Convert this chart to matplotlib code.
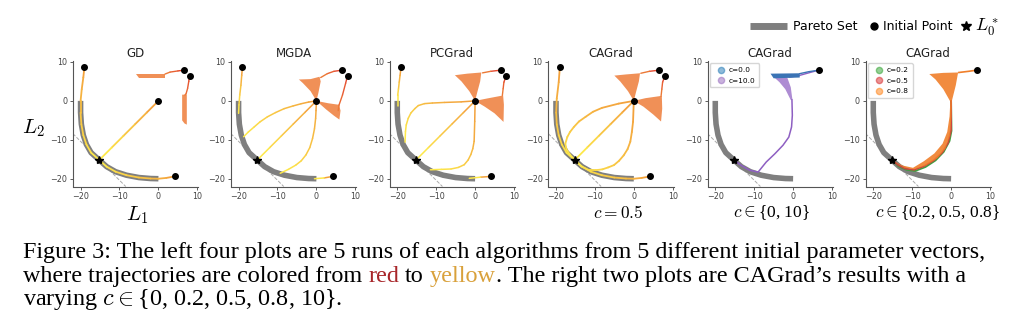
import numpy as np
import matplotlib
matplotlib.use("Agg")
import matplotlib.pyplot as plt
from matplotlib.collections import LineCollection
from matplotlib.colors import LinearSegmentedColormap
from matplotlib.lines import Line2D

plt.rcParams['mathtext.fontset'] = 'cm'

# ---- data ----
titles = ['GD', 'MGDA', 'PCGrad', 'CAGrad', 'CAGrad', 'CAGrad']
pareto_x = [-20, -20, -19.8, -19.3, -18.5, -17.3, -15.2, -13.3, -11.0, -8.2, -5.0, -2.0, 0]
pareto_y = [0, -3, -6, -8.8, -11.2, -13.3, -15.2, -16.9, -18.2, -19.1, -19.7, -19.95, -20]
star_xy = (-15.2, -15.2)
tangent_x = [-22, -8.4]
tangent_y = [-8.4, -22]
init_x = [-19.0, 0.0, 4.2, 6.6, 8.0]
init_y = [8.8, 0.0, -19.4, 7.9, 6.5]
one_init = (6.6, 7.9)

diag = ([0, -3, -6, -9, -12, -15.2], [0, -3, -6, -9, -12, -15.2])
arc_bottom = ([4.2, 2.0, 0.0, -2.0, -5.0, -8.2, -11.0, -13.3, -15.2],
              [-19.4, -19.8, -20.0, -19.95, -19.7, -19.1, -18.2, -16.9, -15.2])

gd_runs = [
    ([-19.0, -19.3, -19.7, -20.0, -20.0, -19.8, -19.3, -18.5, -17.3, -15.2],
     [8.8, 6.0, 3.0, 0.0, -3.0, -6.0, -8.8, -11.2, -13.3, -15.2]),
    diag,
    arc_bottom,
]
gd_stuck = [
    ([6.6, 5.0, 3.0, 1.7], [7.9, 7.7, 7.4, 6.9]),
    ([8.0, 7.8, 7.5, 7.1, 6.8], [6.5, 5.0, 3.2, 1.8, 1.5]),
]
gd_noise = [
    ([-5.8, 1.7, 1.7, -4.9], [7.0, 7.0, 5.8, 5.8]),
    ([6.1, 7.3, 7.3, 6.7, 6.1], [1.6, 1.6, -6.1, -5.8, -5.0]),
]

mgda_runs = [
    ([-19.0, -19.2, -19.4, -19.7, -19.9, -20.0], [8.8, 6.5, 4.0, 1.5, -1.0, -3.2]),
    ([0, -2.0, -4.0, -6.0, -8.3, -10.5, -12.6, -14.5, -16.0, -17.5, -18.7],
     [0, -0.3, -0.75, -1.3, -2.0, -3.0, -4.1, -5.4, -6.7, -8.0, -9.2]),
    diag,
    ([0, -0.1, -0.2, -0.5, -1.0, -1.7, -2.7, -3.9, -5.3, -7.2, -9.3],
     [0, -2.5, -4.5, -7.2, -9.7, -12.0, -13.9, -15.4, -16.5, -17.6, -18.6]),
    ([4.2, 2.0, -0.5], [-19.4, -19.8, -20.0]),
]
mgda_stuck = [
    ([6.6, 4.5, 2.8, 1.1], [7.9, 7.6, 7.0, 6.0]),
    ([8.0, 7.5, 6.7, 5.8, 5.6], [6.5, 4.5, 1.5, -1.1, -2.5]),
]
mgda_noise = [
    ([-4.5, -1.5, 0.8, 1.1, 0.5, 0.0, -1.5, -3.5], [5.5, 5.6, 6.2, 5.0, 2.0, 0.0, 2.5, 4.6]),
    ([0.0, 3.0, 5.8, 6.2, 5.9, 4.5, 2.5], [0.0, -0.6, -1.0, -2.5, -4.8, -3.8, -2.2]),
]

pc_runs = [
    ([-19.0, -19.3, -19.5, -19.7, -19.9, -19.9], [8.8, 6.5, 4.8, 3.0, 1.4, -1.3]),
    ([0, -3.6, -7.9, -11.0, -13.0, -14.6, -15.5, -16.5, -17.2, -17.7, -17.9, -18.0],
     [0, -0.25, -0.4, -0.55, -0.7, -1.2, -2.0, -3.1, -4.5, -6.2, -7.9, -10.6]),
    diag,
    ([0, -0.1, -0.25, -0.6, -1.1, -1.8, -2.8, -4.3, -6.2, -8.7, -11.5],
     [0, -5.3, -10.4, -12.3, -13.8, -15.2, -16.4, -17.1, -17.5, -17.6, -17.7]),
    ([4.2, 1.4, -1.5], [-19.4, -19.6, -19.9]),
]
pc_stuck = [
    ([6.6, 4.0, 1.9], [7.9, 7.6, 7.2]),
    ([8.0, 7.4, 7.2, 7.0], [6.5, 4.8, 3.1, 1.4]),
]
pc_noise = [
    ([-5.2, -2.0, 1.6, 1.3, 0.5, 0.0, -1.5, -3.5], [6.6, 7.0, 7.3, 5.0, 2.0, 0.0, 2.5, 5.0]),
    ([0.0, 3.0, 7.2, 7.4, 7.3, 5.0, 2.5], [0.0, 0.6, 1.4, -1.0, -5.4, -3.2, -1.5]),
]

ca_runs = [
    ([-19.0, -19.3, -19.8, -19.95, -19.8, -19.3, -18.5, -17.3, -15.2],
     [8.8, 4.8, 0.6, -3.0, -6.0, -8.8, -11.2, -13.3, -15.2]),
    ([0, -3.9, -8.2, -10.5, -12.4, -14.1, -15.4, -16.4, -17.1, -17.6, -17.3, -16.4, -15.2],
     [0, -0.7, -1.8, -2.8, -4.1, -5.3, -6.7, -8.0, -9.3, -11.0, -12.5, -13.8, -15.2]),
    diag,
    ([0, -0.2, -0.5, -0.9, -1.6, -2.6, -3.8, -5.1, -6.6, -8.1, -9.8, -11.5, -13.5, -15.2],
     [0, -5.4, -8.0, -10.5, -12.4, -14.0, -15.4, -16.5, -17.1, -17.6, -17.8, -17.8, -16.8, -15.2]),
    arc_bottom,
]
ca_stuck = [
    ([6.6, 4.0, 1.8], [7.9, 7.6, 7.1]),
    ([8.0, 7.4, 7.2, 7.0], [6.5, 4.8, 3.0, 1.2]),
]
ca_noise = [
    ([-5.0, -2.0, 1.6, 1.3, 0.5, 0.0, -1.5, -3.5], [6.5, 6.8, 7.1, 5.0, 2.0, 0.0, 2.5, 5.0]),
    ([0.0, 3.0, 7.2, 7.3, 7.0, 5.0, 2.5], [0.0, 0.7, 1.3, -2.0, -5.3, -3.5, -1.5]),
]

# panel 5: c = 0 and c = 10
c0_curve = ([6.6, 4.0, 1.7], [7.9, 7.5, 7.0])
c0_band = ([-5.8, 1.7, 1.7, -5.0], [7.0, 7.1, 6.0, 5.8])
c10_top = ([6.6, 4.0, 1.5, -1.0], [7.9, 7.2, 6.5, 6.1])
c10_noise = ([-4.8, -1.5, -0.6, -0.2, -0.6, -2.0, -3.5], [6.0, 6.0, 3.5, 0.5, 0.2, 3.0, 4.8])
c10_path = ([-0.3, -0.2, -0.4, -1.1, -2.6, -4.7, -6.9, -9.0, -11.2, -13.3, -15.2],
            [0.3, -3.7, -6.7, -9.3, -11.4, -13.6, -15.7, -18.3, -17.8, -16.6, -15.2])

# panel 6: c = 0.2, 0.5, 0.8
p6_curve = ([6.6, 4.5, 2.0], [7.9, 7.6, 7.3])
p6_noise = ([-5.6, -2.0, 1.8, 1.2, 0.2, -0.3, -2.0, -4.0], [6.9, 7.2, 7.3, 4.0, 0.0, 0.0, 3.0, 5.5])
c02_path = ([0, 0.1, -0.4, -1.9, -4.0, -6.6, -9.2, -11.5, -13.5, -15.2],
            [0, -7.7, -10.3, -13.1, -15.3, -17.0, -18.0, -17.7, -16.8, -15.2])
c05_path = ([0, 0.0, -0.8, -2.3, -4.5, -7.0, -9.5, -11.8, -13.6, -15.2],
            [0, -7.5, -10.8, -13.3, -15.3, -16.8, -17.7, -17.4, -16.5, -15.2])
c08_band = ([-0.2, -0.4, -1.0, -2.2, -4.3, -7.0, -9.8, -12.5, -15.2,
             -12.0, -9.5, -6.5, -3.5, -1.5, -0.3, 0.1, 0.2],
            [0, -4, -8, -11, -13.5, -15.5, -17.2, -16.6, -15.2,
             -17.2, -17.6, -16.6, -14.7, -12.3, -9.0, -4.0, 0])
legend5 = ['c=0.0', 'c=10.0']
legend6 = ['c=0.2', 'c=0.5', 'c=0.8']
sub_labels = ['$c=0.5$', r'$c\in${0, 10}', r'$c\in${0.2, 0.5, 0.8}']

# ---- drawing ----
ry = LinearSegmentedColormap.from_list('ry', ['#e4482e', '#f29a3c', '#fde84a'])
NOISE = '#ee7d3a'


def grad_line(ax, run, t0, t1, lw=1.2, z=4):
    pts = np.column_stack(run)
    segs = np.stack([pts[:-1], pts[1:]], axis=1)
    t = np.linspace(t0, t1, len(segs))
    ax.add_collection(LineCollection(segs, colors=ry(t), linewidths=lw,
                                     capstyle='round', joinstyle='round', zorder=z))


def base(ax, title):
    ax.plot(pareto_x, pareto_y, color='#7f7f7f', lw=4, solid_capstyle='butt', zorder=2)
    ax.plot(tangent_x, tangent_y, color='#aaaaaa', lw=0.7, ls='--', zorder=1)
    ax.set_xlim(-22, 10.2)
    ax.set_ylim(-22, 10.2)
    ax.set_xticks([-20, -10, 0, 10])
    ax.set_yticks([-20, -10, 0, 10])
    for s in ['top', 'right']:
        ax.spines[s].set_visible(False)
    for s in ['left', 'bottom']:
        ax.spines[s].set_color('#555555')
        ax.spines[s].set_linewidth(0.8)
    ax.tick_params(labelsize=5.8, length=2.5, width=0.6, colors='#444444', pad=1.5)
    ax.set_title(title, fontsize=8.5, pad=3, color='#222222')


fig = plt.figure(figsize=(10.24, 3.31), dpi=100)
W, H = 1024, 331
lefts = [72.8, 230.8, 389.5, 548.2, 707.5, 865.5]
axes = [fig.add_axes([l / W, (H - 186.5) / H, 125.3 / W, 125.3 / H]) for l in lefts]

left4 = [(gd_runs, gd_stuck, gd_noise), (mgda_runs, mgda_stuck, mgda_noise),
         (pc_runs, pc_stuck, pc_noise), (ca_runs, ca_stuck, ca_noise)]
for i, (runs, stuck, noise) in enumerate(left4):
    ax = axes[i]
    base(ax, titles[i])
    for px, py in noise:
        ax.fill(px, py, color=NOISE, alpha=0.85, lw=0, zorder=3)
    for r in stuck:
        grad_line(ax, r, 0.0, 0.3, lw=1.0)
    for r in runs:
        grad_line(ax, r, 0.55, 1.0, lw=1.3 if i in (0, 3) else 1.1)
    ax.plot(init_x, init_y, 'o', color='k', ms=4, zorder=6)
    ax.plot(*star_xy, '*', color='k', ms=6, zorder=7)

# panel 5
ax = axes[4]
base(ax, titles[4])
ax.plot(*c10_top, color='#8e5fc2', lw=1.0, zorder=3)
ax.fill(*c10_noise, color='#9a70c8', alpha=0.8, lw=0, zorder=3)
ax.plot(*c10_path, color='#8e5fc2', lw=1.1, zorder=4)
ax.fill(*c0_band, color='#3b74b5', lw=0, zorder=5)
ax.plot(*c0_curve, color='#3b74b5', lw=1.0, zorder=5)
ax.plot(*one_init, 'o', color='k', ms=4, zorder=6)
ax.plot(*star_xy, '*', color='k', ms=6, zorder=7)
h5 = [Line2D([], [], ls='', marker='o', ms=4.5, color=c, alpha=0.5, label=l)
      for c, l in zip(['#1f77b4', '#9467bd'], legend5)]
ax.legend(handles=h5, loc='upper left', fontsize=5.3, handletextpad=0.1,
          borderpad=0.5, labelspacing=0.6, borderaxespad=0.3)

# panel 6
ax = axes[5]
base(ax, titles[5])
ax.plot(*c02_path, color='#3f9f3f', lw=1.3, zorder=3)
ax.plot(*c05_path, color='#c9483f', lw=1.3, zorder=3)
ax.fill(*c08_band, color='#f07f2a', alpha=0.9, lw=0, zorder=4)
ax.fill(*p6_noise, color='#f07f2a', alpha=0.9, lw=0, zorder=4)
ax.plot(*p6_curve, color='#f07f2a', lw=1.2, zorder=4)
ax.plot(*one_init, 'o', color='k', ms=4, zorder=6)
ax.plot(*star_xy, '*', color='k', ms=6, zorder=7)
h6 = [Line2D([], [], ls='', marker='o', ms=4.5, color=c, alpha=0.5, label=l)
      for c, l in zip(['#2ca02c', '#d62728', '#ff7f0e'], legend6)]
ax.legend(handles=h6, loc='upper left', fontsize=5.3, handletextpad=0.1,
          borderpad=0.5, labelspacing=0.6, borderaxespad=0.3)

# axis labels and sub captions
fig.text(137 / W, 1 - 215 / H, '$L_1$', fontsize=15, ha='center', va='center')
fig.text(33 / W, 1 - 128 / H, '$L_2$', fontsize=15, ha='center', va='center')
for xc, s in zip([618, 771, 937], sub_labels):
    fig.text(xc / W, 1 - 213 / H, s, fontsize=12.5, ha='center', va='center',
             family='Liberation Serif')

# top legend
ly = 1 - 26 / H
fig.add_artist(Line2D([750 / W, 787 / W], [ly, ly], color='#7f7f7f', lw=5,
                      solid_capstyle='butt', transform=fig.transFigure))
fig.text(793 / W, ly, 'Pareto Set', fontsize=9, va='center')
fig.add_artist(Line2D([874 / W], [ly], marker='o', color='k', ms=5, transform=fig.transFigure))
fig.text(883 / W, ly, 'Initial Point', fontsize=9, va='center')
fig.add_artist(Line2D([966 / W], [ly], marker='*', color='k', ms=7, transform=fig.transFigure))
fig.text(975 / W, ly - 0.004, '$L_0^*$', fontsize=13, va='center')

# caption
cap = dict(fontsize=17.4, family='Liberation Serif', va='baseline', ha='left')
fig.canvas.draw()
rend = fig.canvas.get_renderer()


def tw(s):
    t = fig.text(0, 0, s, **cap)
    w = t.get_window_extent(renderer=rend).width
    t.remove()
    return w / W


space = tw('x x') - tw('xx')
x0 = 23 / W
fig.text(x0, 1 - 258 / H,
         'Figure 3: The left four plots are 5 runs of each algorithms from 5 different initial parameter vectors,',
         **cap)
parts = [('where trajectories are colored from', 'black', True),
         ('red', '#a8262a', True),
         ('to', 'black', True),
         ('yellow', '#d9a13b', False),
         ('. The right two plots are CAGrad\u2019s results with a', 'black', False)]
x = x0
for s, col, sp in parts:
    fig.text(x, 1 - 282 / H, s, color=col, **cap)
    x += tw(s) + (space if sp else 0)
fig.text(x0, 1 - 305.5 / H, r'varying $c\in${0, 0.2, 0.5, 0.8, 10}.', **cap)

fig.savefig('out.png', dpi=100)
